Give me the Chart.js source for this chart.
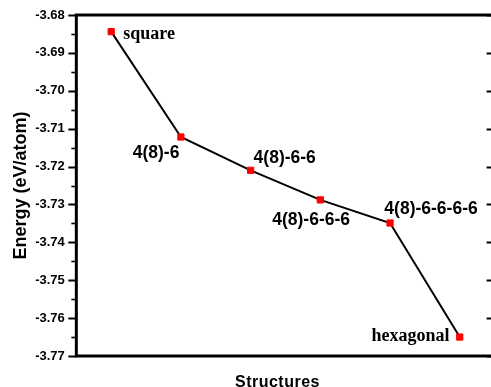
<!DOCTYPE html>
<html>
<head>
<meta charset="utf-8">
<script src="https://cdn.jsdelivr.net/npm/chart.js@4/dist/chart.umd.min.js"></script>
<style>
  html, body { margin: 0; padding: 0; background: #fff; overflow: hidden; }
  #clip { width: 491px; height: 387px; overflow: hidden; position: relative; }
  #wrap { width: 500px; height: 387px; position: relative; }
</style>
</head>
<body>
<div id="clip"><div id="wrap"><canvas id="c"></canvas></div></div>
<script>
// ---- data ----
const structures = ['square', '4(8)-6', '4(8)-6-6', '4(8)-6-6-6', '4(8)-6-6-6-6', 'hexagonal'];
const energies = [-3.6844, -3.7122, -3.7210, -3.7288, -3.7349, -3.7650];
const yMin = -3.77;
const yMax = -3.68;
const yStep = 0.01;
const xTitle = 'Structures';
const yTitle = 'Energy (eV/atom)';

// ---- label styling (positions relative to each point) ----
const SANS = '"Liberation Sans", Arial, sans-serif';
const SERIF = '"Liberation Serif", "Times New Roman", serif';
const labelStyle = [
  { font: 'bold 18px ' + SERIF, align: 'left', dx: 12, dy: 7.5 },
  { font: 'bold 17.5px ' + SANS, align: 'right', dx: -1.5, dy: 21 },
  { font: 'bold 17.5px ' + SANS, align: 'left', dx: 3, dy: -7.3 },
  { font: 'bold 17.5px ' + SANS, align: 'right', dx: 29.7, dy: 24.7 },
  { font: 'bold 17.5px ' + SANS, align: 'left', dx: -5.7, dy: -9.2 },
  { font: 'bold 18px ' + SERIF, align: 'right', dx: -10.3, dy: 4.4 }
];

const points = energies.map((v, i) => ({ x: i, y: v }));

const framePlugin = {
  id: 'frame',
  afterDatasetsDraw(chart) {
    const ctx = chart.ctx;
    const a = chart.chartArea;
    const ys = chart.scales.y;
    ctx.save();
    ctx.strokeStyle = '#000';
    const n = Math.round((yMax - yMin) / (yStep / 2));
    for (let k = 0; k <= n; k++) {
      const v = yMin + k * yStep / 2;
      const py = Math.round(ys.getPixelForValue(v)) + 0.5;
      const major = k % 2 === 0;
      ctx.lineWidth = major ? 2 : 1.6;
      ctx.beginPath();
      ctx.moveTo(a.left, py);
      ctx.lineTo(a.left - (major ? 8 : 5), py);
      ctx.stroke();
      if (major) {
        ctx.beginPath();
        ctx.moveTo(a.right, py);
        ctx.lineTo(a.right - 8, py);
        ctx.stroke();
      }
    }
    ctx.lineWidth = 3;
    ctx.strokeRect(a.left, a.top, a.right - a.left, a.bottom - a.top);
    // x-axis title
    ctx.fillStyle = '#000';
    ctx.font = 'bold 16px ' + SANS;
    try { ctx.letterSpacing = '0.5px'; } catch (e) {}
    ctx.textAlign = 'center';
    ctx.textBaseline = 'alphabetic';
    ctx.fillText(xTitle, (a.left + a.right) / 2 - 8, a.bottom + 30.5);
    try { ctx.letterSpacing = '0px'; } catch (e) {}
    // point labels
    const meta = chart.getDatasetMeta(0);
    meta.data.forEach((el, i) => {
      const s = labelStyle[i];
      ctx.font = s.font;
      ctx.textAlign = s.align;
      ctx.fillText(structures[i], el.x + s.dx, el.y + s.dy);
    });
    ctx.restore();
  }
};

new Chart(document.getElementById('c'), {
  type: 'line',
  data: {
    datasets: [{
      data: points,
      borderColor: '#000',
      borderWidth: 2,
      pointStyle: 'rect',
      pointRadius: 4.4,
      pointBackgroundColor: '#ff0000',
      pointBorderColor: '#ff0000',
      pointBorderWidth: 1,
      tension: 0,
      clip: false
    }]
  },
  options: {
    responsive: true,
    maintainAspectRatio: false,
    animation: false,
    layout: { padding: { left: 6, top: 15, right: 4, bottom: 23 } },
    plugins: { legend: { display: false }, tooltip: { enabled: false } },
    scales: {
      x: {
        type: 'linear',
        min: -0.5,
        max: 5.5,
        grid: { display: false },
        border: { display: false },
        ticks: { display: false }
      },
      y: {
        min: yMin,
        max: yMax,
        grid: { display: false },
        border: { display: false },
        ticks: {
          stepSize: yStep,
          color: '#000',
          padding: 3.5,
          font: { family: SANS, size: 13, weight: 'bold' },
          callback: (v) => Number(v).toFixed(2)
        },
        title: {
          display: true,
          text: yTitle,
          color: '#000',
          font: { family: SANS, size: 18, weight: 'bold', lineHeight: 1.2 },
          padding: { top: 4, bottom: 0.1 }
        }
      }
    }
  },
  plugins: [framePlugin]
});
</script>
</body>
</html>
